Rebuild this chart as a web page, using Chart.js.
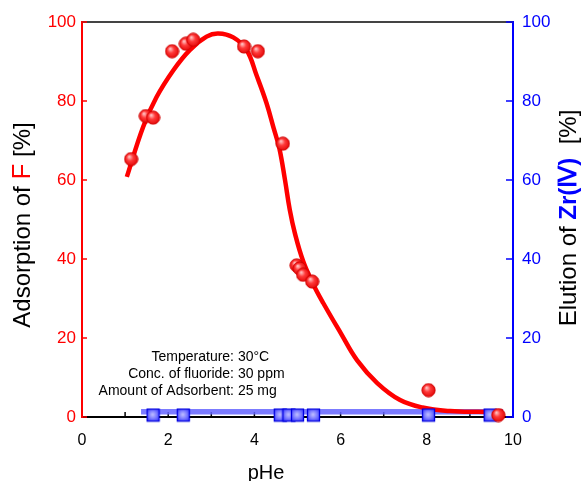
<!DOCTYPE html>
<html>
<head>
<meta charset="utf-8">
<script src="https://cdn.jsdelivr.net/npm/chart.js@4"></script>
<style>
  html,body{margin:0;padding:0;background:#fff;}
  canvas{display:block;}
</style>
</head>
<body>
<canvas id="chart" width="584" height="481"></canvas>
<script>
// measured points, adsorption of F [%] vs pHe
const phF=[1.14,1.48,1.65,2.09,2.41,2.58,3.76,4.08,4.66,4.98,5.05,5.13,5.34,8.04,9.66];
const adsF=[65.3,76.2,75.8,92.6,94.5,95.5,93.8,92.6,69.2,38.4,37.6,36.0,34.3,6.8,0.5];

// elution of Zr(IV) [%]
const phZr=[1.65,2.35,4.6,4.8,5.0,5.37,8.04,9.47];
const eluZr=[0.5,0.5,0.5,0.5,0.5,0.5,0.5,0.5];

// fitted curve for F
const fitPh=[1.04,1.42,1.73,2.12,2.5,2.89,3.16,3.51,3.82,4.05,4.28,4.45,4.58,4.71,4.82,4.94,5.13,5.37,5.6,6.0,6.38,6.85,7.38,7.9,8.54,9.2,9.77];
const fitAds=[60.8,73.5,81,87.8,92.9,96.3,97.1,96.1,92.9,86.5,79.5,73,68,60,52.5,46.5,39.5,33.5,28.8,21.3,14.4,8.6,4.3,2.4,1.5,1.3,1.3];

// flat line through the Zr data
const zrLinePh=[1.37,9.77];
const zrLineVal=[1.3,1.3];

const xTicks=[0,2,4,6,8,10];
const yTicks=[0,20,40,60,80,100];

const notes=[["Temperature:"," 30°C"],["Conc. of fluoride:"," 30 ppm"],["Amount of Adsorbent:"," 25 mg"]];

const RED="#ff0000", BLUE="#0000ff";
const FONT="'Liberation Sans', Arial, sans-serif";

function toXY(xs,ys){ return xs.map((x,i)=>({x:x,y:ys[i]})); }

// shaded marker images
function makeBall(){
  const c=document.createElement("canvas"); c.width=15; c.height=15;
  const g=c.getContext("2d");
  const grad=g.createRadialGradient(5.5,5,0.5,7.5,7.5,7.5);
  grad.addColorStop(0,"#ffc0c0");
  grad.addColorStop(0.4,"#ff3a3a");
  grad.addColorStop(1,"#e00000");
  g.fillStyle=grad;
  g.beginPath(); g.arc(7.5,7.5,6.6,0,Math.PI*2); g.fill();
  g.strokeStyle="#d00000"; g.lineWidth=1; g.stroke();
  return c;
}
function makeBox(){
  const c=document.createElement("canvas"); c.width=15; c.height=15;
  const g=c.getContext("2d");
  const grad=g.createRadialGradient(7,7,0.5,7.5,7.5,9);
  grad.addColorStop(0,"#b8b8ff");
  grad.addColorStop(0.55,"#6868ff");
  grad.addColorStop(1,"#3030ff");
  g.fillStyle=grad;
  g.fillRect(1,1,13,13);
  g.strokeStyle="#0000e0"; g.lineWidth=1.3; g.strokeRect(1.5,1.5,12,12);
  return c;
}

function drawParts(ctx,parts,cx,cy,rot){
  ctx.save();
  ctx.translate(cx,cy);
  ctx.rotate(rot);
  ctx.textBaseline="middle";
  ctx.textAlign="left";
  let total=0;
  parts.forEach(p=>{ ctx.font=p[2]; total+=ctx.measureText(p[0]).width; });
  let x=-total/2;
  parts.forEach(p=>{
    ctx.font=p[2]; ctx.fillStyle=p[1];
    ctx.fillText(p[0],x,0);
    x+=ctx.measureText(p[0]).width;
  });
  ctx.restore();
}

const decor={
  id:"decor",
  beforeDatasetsDraw(chart){
    const ctx=chart.ctx, a=chart.chartArea;
    const sx=chart.scales.x, sy=chart.scales.y, sy2=chart.scales.y2;
    ctx.save();
    // top frame line
    ctx.strokeStyle="#444"; ctx.lineWidth=2;
    ctx.beginPath(); ctx.moveTo(a.left,a.top); ctx.lineTo(a.right,a.top); ctx.stroke();
    // inward ticks
    ctx.lineWidth=1.5;
    ctx.strokeStyle=RED;
    yTicks.forEach(v=>{ const y=sy.getPixelForValue(v); ctx.beginPath(); ctx.moveTo(a.left,y); ctx.lineTo(a.left+5,y); ctx.stroke(); });
    ctx.strokeStyle=BLUE;
    yTicks.forEach(v=>{ const y=sy2.getPixelForValue(v); ctx.beginPath(); ctx.moveTo(a.right,y); ctx.lineTo(a.right-7,y); ctx.stroke(); });
    ctx.strokeStyle="#000";
    for(let v=1;v<10;v++){ const x=sx.getPixelForValue(v); ctx.beginPath(); ctx.moveTo(x,a.bottom); ctx.lineTo(x,a.bottom-5); ctx.stroke(); }
    ctx.restore();
  },
  afterDraw(chart){
    const ctx=chart.ctx;
    drawParts(ctx,[["Adsorption of ","#000","24px "+FONT],["F",RED,"26px "+FONT],[" [%]","#000","24px "+FONT]],23,225,-Math.PI/2);
    drawParts(ctx,[["Elution of ","#000","24px "+FONT],["Zr(Ⅳ)",BLUE,"bold 24px "+FONT],["  [%]","#000","24px "+FONT]],569,218,-Math.PI/2);
    drawParts(ctx,[["pHe","#000","20px "+FONT]],266,473,0);
    ctx.save();
    ctx.font="14px "+FONT; ctx.fillStyle="#000"; ctx.textBaseline="middle";
    notes.forEach((n,i)=>{
      const y=357+i*17;
      ctx.textAlign="right"; ctx.fillText(n[0],234,y);
      ctx.textAlign="left"; ctx.fillText(n[1],234,y);
    });
    ctx.restore();
  }
};

new Chart(document.getElementById("chart"),{
  type:"scatter",
  data:{
    datasets:[
      { data:toXY(phF,adsF), yAxisID:"y", pointStyle:makeBall(), pointRadius:7, order:1, clip:false },
      { data:toXY(phZr,eluZr), yAxisID:"y2", pointStyle:makeBox(), pointRadius:7, order:2, clip:false },
      { data:toXY(fitPh,fitAds), yAxisID:"y", showLine:true, pointRadius:0, borderColor:RED, borderWidth:4.5,
        tension:0.4, order:3, clip:false },
      { data:toXY(zrLinePh,zrLineVal), yAxisID:"y2", showLine:true, pointRadius:0, borderColor:"rgba(100,100,255,0.85)",
        borderWidth:5.5, order:4, clip:false }
    ]
  },
  options:{
    responsive:false,
    devicePixelRatio:1,
    animation:false,
    layout:{ padding:{ top:22 } },
    plugins:{ legend:{display:false}, tooltip:{enabled:false} },
    scales:{
      x:{
        type:"linear", min:0, max:10,
        afterBuildTicks(s){ s.ticks=xTicks.map(v=>({value:v})); },
        afterFit(s){ s.height=64; },
        grid:{display:false,drawTicks:false},
        border:{color:"#000",width:2},
        ticks:{color:"#000",font:{size:16,family:FONT},padding:14,maxRotation:0}
      },
      y:{
        position:"left", min:0, max:100,
        afterBuildTicks(s){ s.ticks=yTicks.map(v=>({value:v})); },
        afterFit(s){ s.width=82; },
        grid:{display:false,drawTicks:false},
        border:{color:RED,width:2},
        ticks:{color:RED,font:{size:17,family:FONT},padding:6}
      },
      y2:{
        position:"right", min:0, max:100,
        afterBuildTicks(s){ s.ticks=yTicks.map(v=>({value:v})); },
        afterFit(s){ s.width=71; },
        grid:{display:false,drawTicks:false},
        border:{color:BLUE,width:2},
        ticks:{color:BLUE,font:{size:17,family:FONT},padding:9}
      }
    }
  },
  plugins:[decor]
});
</script>
</body>
</html>
